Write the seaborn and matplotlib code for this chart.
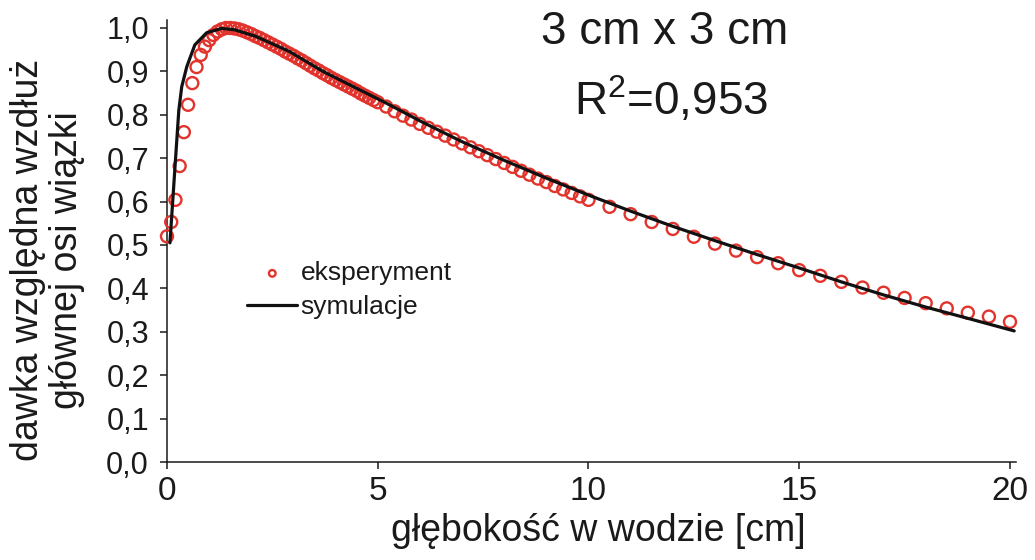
import numpy as np
import pandas as pd
import matplotlib
matplotlib.use("Agg")
import matplotlib.pyplot as plt
import seaborn as sns

# ---------------- data ----------------
exp_depth = [0.0, 0.1, 0.2, 0.3, 0.4, 0.5, 0.6, 0.7, 0.8, 0.9,
             1.0, 1.1, 1.2, 1.3, 1.4, 1.5, 1.6, 1.7, 1.8, 1.9,
             2.0, 2.1, 2.2, 2.3, 2.4, 2.5, 2.6, 2.7, 2.8, 2.9,
             3.0, 3.1, 3.2, 3.3, 3.4, 3.5, 3.6, 3.7, 3.8, 3.9,
             4.0, 4.1, 4.2, 4.3, 4.4, 4.5, 4.6, 4.7, 4.8, 4.9, 5.0,
             5.2, 5.4, 5.6, 5.8, 6.0, 6.2, 6.4, 6.6, 6.8, 7.0,
             7.2, 7.4, 7.6, 7.8, 8.0, 8.2, 8.4, 8.6, 8.8, 9.0,
             9.2, 9.4, 9.6, 9.8, 10.0,
             10.5, 11.0, 11.5, 12.0, 12.5, 13.0, 13.5, 14.0, 14.5, 15.0,
             15.5, 16.0, 16.5, 17.0, 17.5, 18.0, 18.5, 19.0, 19.5, 20.0]
exp_dose = [0.520, 0.553, 0.604, 0.682, 0.760, 0.823, 0.873, 0.910, 0.938, 0.957,
            0.972, 0.984, 0.992, 0.997, 1.000, 1.000, 0.999, 0.997, 0.994, 0.990,
            0.986, 0.981, 0.977, 0.972, 0.967, 0.962, 0.957, 0.952, 0.946, 0.941,
            0.936, 0.930, 0.925, 0.919, 0.913, 0.907, 0.902, 0.896, 0.891, 0.885,
            0.880, 0.875, 0.870, 0.865, 0.860, 0.855, 0.849, 0.844, 0.839, 0.834, 0.829,
            0.819, 0.808, 0.798, 0.789, 0.779, 0.770, 0.761, 0.752, 0.743, 0.734,
            0.725, 0.716, 0.707, 0.698, 0.689, 0.680, 0.671, 0.662, 0.653, 0.645,
            0.636, 0.628, 0.620, 0.612, 0.604,
            0.588, 0.571, 0.553, 0.537, 0.519, 0.503, 0.487, 0.472, 0.458, 0.442,
            0.429, 0.415, 0.402, 0.390, 0.378, 0.366, 0.354, 0.344, 0.335, 0.323]

sim_depth = [0.07, 0.19, 0.28, 0.35, 0.47, 0.66, 0.94, 1.3, 1.6, 2.1, 2.9, 3.7, 4.5,
             5.2, 6.0, 7.0, 8.0, 9.0, 10.0, 11.0, 12.0, 13.0, 14.0, 15.0, 16.0,
             17.0, 18.0, 19.0, 20.1]
sim_dose = [0.505, 0.68, 0.81, 0.865, 0.911, 0.961, 0.989, 0.999, 0.996, 0.981, 0.946,
            0.900, 0.861, 0.827, 0.786, 0.738, 0.695, 0.654, 0.615, 0.578, 0.543,
            0.510, 0.478, 0.447, 0.415, 0.385, 0.357, 0.331, 0.302]

x_ticks = [0, 5, 10, 15, 20]
y_ticks = [0.0, 0.1, 0.2, 0.3, 0.4, 0.5, 0.6, 0.7, 0.8, 0.9, 1.0]
y_tick_labels = ["0,0", "0,1", "0,2", "0,3", "0,4", "0,5", "0,6", "0,7", "0,8", "0,9", "1,0"]

label_exp = "eksperyment"
label_sim = "symulacje"
x_label = "głębokość w wodzie [cm]"
y_label = "dawka względna wzdłuż\ngłównej osi wiązki"
title_1 = "3 cm x 3 cm"
title_2 = "R$^{2}$=0,953"

# ---------------- style ----------------
sns.set_style("ticks")
plt.rcParams["font.family"] = ["Liberation Sans", "DejaVu Sans"]
plt.rcParams["mathtext.default"] = "regular"
plt.rcParams["axes.linewidth"] = 1.1

RED = "#e2342d"
BLACK = "#111111"

df_exp = pd.DataFrame({"depth": exp_depth, "dose": exp_dose})
df_sim = pd.DataFrame({"depth": sim_depth, "dose": sim_dose})

fig = plt.figure(figsize=(10.35, 5.6), dpi=100)
ax = fig.add_axes([167 / 1035, 98 / 560, 849.3 / 1035, 442 / 560])

sns.scatterplot(data=df_exp, x="depth", y="dose", ax=ax, marker="o",
                s=75, facecolors="none", edgecolor=RED, linewidth=1.7,
                label=label_exp, clip_on=False, zorder=3)
sns.lineplot(data=df_sim, x="depth", y="dose", ax=ax, color=BLACK,
             linewidth=2.3, estimator=None, sort=False, label=label_sim, zorder=4)

ax.set_xlim(0, 20.15)
ax.set_ylim(0, 1.0184)
ax.set_xticks(x_ticks)
ax.set_xticklabels([str(t) for t in x_ticks])
ax.set_yticks(y_ticks)
ax.set_yticklabels(y_tick_labels)
ax.tick_params(axis="x", labelsize=24, length=5, width=1.1, pad=5, colors="#1a1a1a")
ax.tick_params(axis="y", labelsize=22, length=5, width=1.1, pad=8, colors="#1a1a1a")
sns.despine(ax=ax)
for sp in ("left", "bottom"):
    ax.spines[sp].set_color("#1a1a1a")

ax.set_xlabel(x_label, fontsize=27, color="#1a1a1a")
ax.xaxis.set_label_coords(0.508, -0.115)
ax.set_ylabel(y_label, fontsize=27, color="#1a1a1a", linespacing=1.1)
ax.yaxis.set_label_coords(-0.097, 0.457)

ax.text(0.586, 0.973, title_1, transform=ax.transAxes, fontsize=33,
        ha="center", va="center", color="#1a1a1a")
ax.text(0.593, 0.819, title_2, transform=ax.transAxes, fontsize=33,
        ha="center", va="center", color="#1a1a1a")

leg = ax.legend(loc="upper left", bbox_to_anchor=(0.082, 0.478), frameon=False,
                fontsize=19, markerscale=0.55, handlelength=1.9, handletextpad=0.12,
                labelspacing=0.37, borderaxespad=0)
for t in leg.get_texts():
    t.set_color("#1a1a1a")

fig.savefig("out.png", dpi=100)
